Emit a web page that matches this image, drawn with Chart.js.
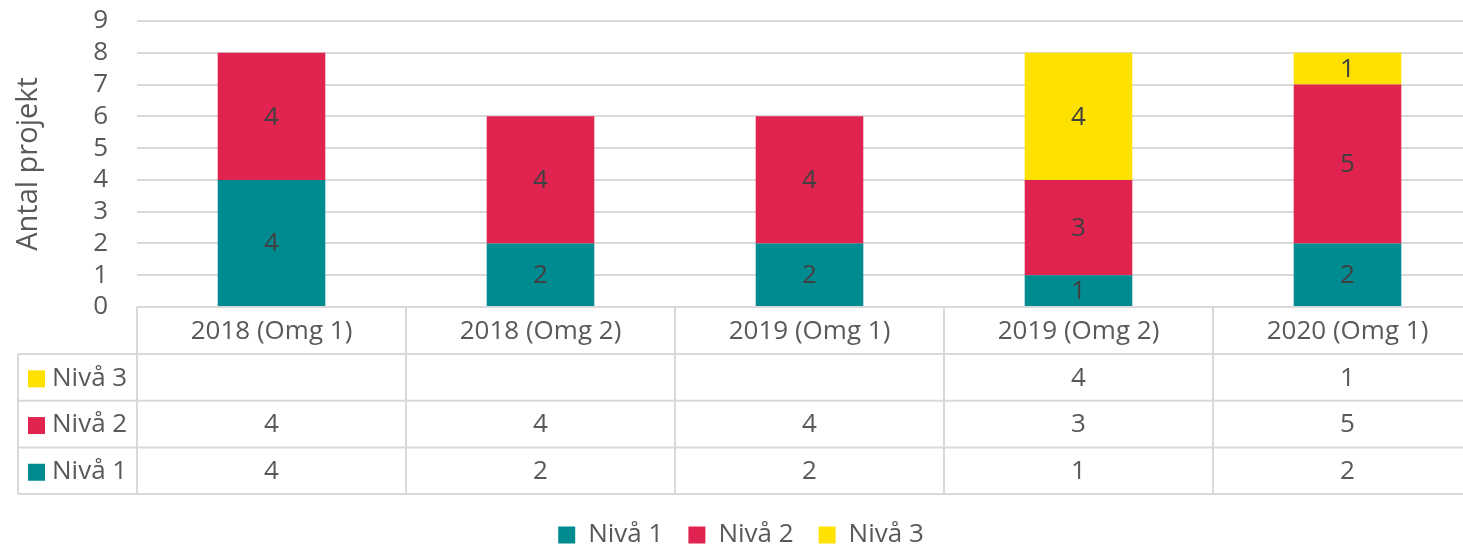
<!DOCTYPE html>
<html>
<head>
<meta charset="utf-8">
<script src="https://cdn.jsdelivr.net/npm/chart.js@4"></script>
<style>
  html, body { margin: 0; padding: 0; background: #fff; overflow: hidden; width: 1463px; height: 548px; }
  #wrap { width: 1490px; height: 558px; }
</style>
</head>
<body>
<div id="wrap"><canvas id="chart"></canvas></div>
<script>
const kategorier = ['2018 (Omg 1)', '2018 (Omg 2)', '2019 (Omg 1)', '2019 (Omg 2)', '2020 (Omg 1)'];
const niva1 = [4, 2, 2, 1, 2];
const niva2 = [4, 4, 4, 3, 5];
const niva3 = [null, null, null, 4, 1];
const yTicks = [0, 1, 2, 3, 4, 5, 6, 7, 8, 9];

const FONT = "'Open Sans', 'Noto Sans', sans-serif";
const FS = 26;
const GRID = '#D9D9D9';
const TEXT = '#595959';

// Tabellen under diagrammet
const tabellPlugin = {
  id: 'tabell',
  afterDraw(chart) {
    const ctx = chart.ctx;
    const x = chart.scales.x;
    const area = chart.chartArea;
    const colW = (area.right - area.left) / kategorier.length;
    const top = area.bottom;
    const headH = 47;
    const rowH = 46.7;
    const leftX = 18;
    const rader = [chart.data.datasets[2], chart.data.datasets[1], chart.data.datasets[0]];
    const bottom = top + headH + rowH * rader.length;

    ctx.save();
    ctx.strokeStyle = GRID;
    ctx.lineWidth = 2;
    ctx.beginPath();
    ctx.moveTo(area.left, top); ctx.lineTo(area.right, top);
    for (let i = 0; i <= rader.length; i++) {
      const y = top + headH + rowH * i;
      ctx.moveTo(leftX, y); ctx.lineTo(area.right, y);
    }
    ctx.moveTo(leftX, top + headH); ctx.lineTo(leftX, bottom);
    for (let i = 0; i <= kategorier.length; i++) {
      const cx = area.left + colW * i;
      ctx.moveTo(cx, top); ctx.lineTo(cx, bottom);
    }
    ctx.stroke();

    ctx.font = FS + 'px ' + FONT;
    ctx.fillStyle = TEXT;
    ctx.textAlign = 'center';
    ctx.textBaseline = 'middle';
    kategorier.forEach((k, i) => {
      ctx.fillText(k, x.getPixelForValue(i), top + headH / 2 + 1);
    });

    rader.forEach((ds, r) => {
      const yc = top + headH + rowH * r + rowH / 2 + 1;
      ctx.fillStyle = ds.backgroundColor;
      ctx.fillRect(28, yc - 8, 17, 17);
      ctx.fillStyle = TEXT;
      ctx.textAlign = 'left';
      ctx.fillText(ds.label, 52, yc);
      ctx.textAlign = 'center';
      ds.data.forEach((v, i) => {
        if (v !== null) ctx.fillText(String(v), x.getPixelForValue(i), yc);
      });
    });
    ctx.restore();
  }
};

// Värden mitt i staplarna
const etikettPlugin = {
  id: 'etiketter',
  afterDatasetsDraw(chart) {
    const ctx = chart.ctx;
    ctx.save();
    ctx.font = FS + 'px ' + FONT;
    ctx.fillStyle = '#404040';
    ctx.textAlign = 'center';
    ctx.textBaseline = 'middle';
    chart.data.datasets.forEach((ds, di) => {
      chart.getDatasetMeta(di).data.forEach((bar, i) => {
        const v = ds.data[i];
        if (v === null) return;
        const yc = (bar.y + bar.base) / 2;
        ctx.fillText(String(v), bar.x, yc + 1);
      });
    });
    ctx.restore();
  }
};

new Chart(document.getElementById('chart'), {
  type: 'bar',
  data: {
    labels: kategorier,
    datasets: [
      { label: 'Nivå 1', data: niva1, backgroundColor: '#008B91' },
      { label: 'Nivå 2', data: niva2, backgroundColor: '#E0234F' },
      { label: 'Nivå 3', data: niva3, backgroundColor: '#FFE100' }
    ]
  },
  options: {
    responsive: true,
    maintainAspectRatio: false,
    animation: false,
    layout: { padding: { left: 0, right: 8, top: 21, bottom: 0 } },
    datasets: { bar: { categoryPercentage: 1, barPercentage: 0.4 } },
    plugins: {
      legend: {
        position: 'bottom',
        labels: {
          font: { family: FONT, size: FS },
          color: TEXT,
          boxWidth: 17,
          boxHeight: 17,
          padding: 25
        }
      },
      tooltip: { enabled: false }
    },
    scales: {
      x: {
        stacked: true,
        grid: { display: false },
        border: { display: false },
        ticks: { display: false },
        afterFit(scale) { scale.height = 190; }
      },
      y: {
        stacked: true,
        min: 0,
        max: 9,
        afterBuildTicks(scale) { scale.ticks = yTicks.map(v => ({ value: v })); },
        afterFit(scale) { scale.width = 137; },
        ticks: {
          font: { family: FONT, size: FS },
          color: TEXT,
          padding: 0,
          autoSkip: false
        },
        grid: { color: GRID, lineWidth: 2, drawTicks: true, tickLength: 29, tickColor: 'rgba(0,0,0,0)' },
        border: { display: false },
        title: {
          display: true,
          text: 'Antal projekt',
          font: { family: FONT, size: 29 },
          color: TEXT,
          padding: { top: 11, bottom: 0 }
        }
      }
    }
  },
  plugins: [tabellPlugin, etikettPlugin]
});
</script>
</body>
</html>
